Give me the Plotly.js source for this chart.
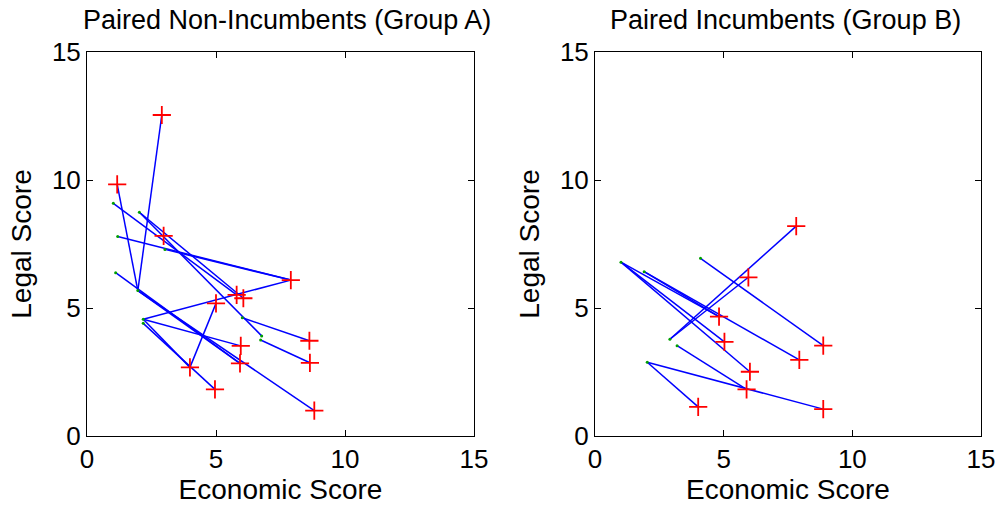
<!DOCTYPE html>
<html>
<head>
<meta charset="utf-8">
<script src="https://cdn.plot.ly/plotly-3.0.1.min.js"></script>
<style>html,body{margin:0;padding:0;background:#fff;}#chart{width:1000px;height:509px;}</style>
</head>
<body>
<div id="chart"></div>
<script>
// ---------- Group A (Paired Non-Incumbents) ----------
// segment start points
const aStartX = [1.97, 1.97, 1.02, 2.03, 2.03, 1.19, 3.02, 1.11, 1.97, 1.97, 2.18, 2.18, 2.18, 2.18, 3.99, 6.02, 6.73];
const aStartY = [5.68, 5.68, 9.09, 8.74, 8.74, 7.79, 7.29, 6.38, 5.68, 5.68, 4.56, 4.56, 4.56, 4.40, 2.68, 4.62, 3.75];
// segment end points
const aEndX   = [2.90, 1.17, 5.80, 6.06, 6.77, 7.90, 7.90, 5.93, 5.93, 8.81, 7.90, 5.96, 3.99, 4.96, 5.00, 8.62, 8.64];
const aEndY   = [12.54, 9.83, 5.51, 5.38, 3.91, 6.09, 6.09, 2.84, 2.84, 0.99, 6.09, 3.52, 2.68, 1.82, 5.18, 3.72, 2.86];
// small start dots
const aDotX = [1.02, 2.03, 1.19, 3.02, 1.11, 1.97, 2.18, 2.18, 6.02, 6.77, 6.73];
const aDotY = [9.09, 8.74, 7.79, 7.29, 6.38, 5.68, 4.56, 4.40, 4.62, 3.91, 3.75];
// red + markers
const aCrossX = [2.90, 1.17, 2.97, 7.90, 5.80, 6.06, 5.00, 8.62, 5.96, 3.99, 5.93, 8.64, 4.96, 8.81];
const aCrossY = [12.54, 9.83, 7.82, 6.09, 5.51, 5.38, 5.18, 3.72, 3.52, 2.68, 2.84, 2.86, 1.82, 0.99];

// ---------- Group B (Paired Incumbents) ----------
const bStartX = [2.91, 2.91, 4.10, 1.01, 1.01, 1.01, 1.91, 1.91, 3.19, 2.03, 2.03];
const bStartY = [3.78, 3.78, 6.94, 6.79, 6.79, 6.79, 6.42, 6.42, 3.53, 2.88, 2.88];
const bEndX   = [7.82, 5.96, 8.87, 4.82, 5.03, 6.02, 4.82, 7.94, 5.89, 8.87, 4.01];
const bEndY   = [8.20, 6.20, 3.53, 4.66, 3.68, 2.51, 4.66, 2.97, 1.82, 1.05, 1.14];
const bDotX = [1.01, 1.91, 4.10, 2.91, 3.19, 2.03];
const bDotY = [6.79, 6.42, 6.94, 3.78, 3.53, 2.88];
const bCrossX = [7.82, 5.96, 4.82, 5.03, 8.87, 7.94, 6.02, 5.89, 8.87, 4.01];
const bCrossY = [8.20, 6.20, 4.66, 3.68, 3.53, 2.97, 2.51, 1.82, 1.05, 1.14];

const titles = ["Paired Non-Incumbents (Group A)", "Paired Incumbents (Group B)"];
const xTitle = "Economic Score";
const yTitle = "Legal Score";
const tickVals = [0, 5, 10, 15];

function segXY(sx, sy, ex, ey) {
  const x = [], y = [];
  for (let k = 0; k < sx.length; k++) {
    x.push(sx[k], ex[k], null);
    y.push(sy[k], ey[k], null);
  }
  return {x, y};
}

function panel(sx, sy, ex, ey, dx, dy, cx, cy, xa, ya) {
  const s = segXY(sx, sy, ex, ey);
  return [
    {type: 'scatter', mode: 'lines', x: s.x, y: s.y, xaxis: xa, yaxis: ya,
     line: {color: '#0000ff', width: 1.5}, hoverinfo: 'skip', showlegend: false},
    {type: 'scatter', mode: 'markers', x: dx, y: dy, xaxis: xa, yaxis: ya,
     marker: {color: '#00a000', size: 3}, showlegend: false},
    {type: 'scatter', mode: 'markers', x: cx, y: cy, xaxis: xa, yaxis: ya,
     marker: {symbol: 'cross-thin-open', size: 13, color: '#ff0000', line: {color: '#ff0000', width: 1.8}},
     showlegend: false}
  ];
}

const data = [
  ...panel(aStartX, aStartY, aEndX, aEndY, aDotX, aDotY, aCrossX, aCrossY, 'x', 'y'),
  ...panel(bStartX, bStartY, bEndX, bEndY, bDotX, bDotY, bCrossX, bCrossY, 'x2', 'y2')
];

const fam = 'Liberation Sans, Arial, sans-serif';
const tickFont = {family: fam, size: 26, color: '#000'};
const labFont = {family: fam, size: 28, color: '#000'};
const titleFont = {family: fam, size: 27, color: '#000'};
function ax(domain, anchor, titleText, standoff) {
  return {
    domain: domain, anchor: anchor, range: [0, 15], tickvals: tickVals,
    ticks: 'inside', ticklen: 6, tickwidth: 1, tickcolor: '#000',
    showline: true, linecolor: '#000', linewidth: 1, mirror: 'allticks',
    showgrid: false, zeroline: false, tickfont: tickFont,
    title: {text: titleText, font: labFont, standoff: standoff}
  };
}

const yDom = [73/509, 457/509];
const layout = {
  width: 1000, height: 509,
  margin: {l: 0, r: 0, t: 0, b: 0},
  paper_bgcolor: '#fff', plot_bgcolor: '#fff',
  font: tickFont,
  xaxis: ax([0.087, 0.474], 'y', xTitle, 6),
  yaxis: ax(yDom, 'x', yTitle, 12),
  xaxis2: ax([0.595, 0.981], 'y2', xTitle, 6),
  yaxis2: ax(yDom, 'x2', yTitle, 12),
  annotations: [
    {text: titles[0], x: 0.287, y: 1 - 20/509, xref: 'paper', yref: 'paper',
     xanchor: 'center', yanchor: 'middle', showarrow: false, font: titleFont},
    {text: titles[1], x: 0.785, y: 1 - 20/509, xref: 'paper', yref: 'paper',
     xanchor: 'center', yanchor: 'middle', showarrow: false, font: titleFont}
  ]
};

Plotly.newPlot('chart', data, layout, {displayModeBar: false, staticPlot: true});
</script>
</body>
</html>
